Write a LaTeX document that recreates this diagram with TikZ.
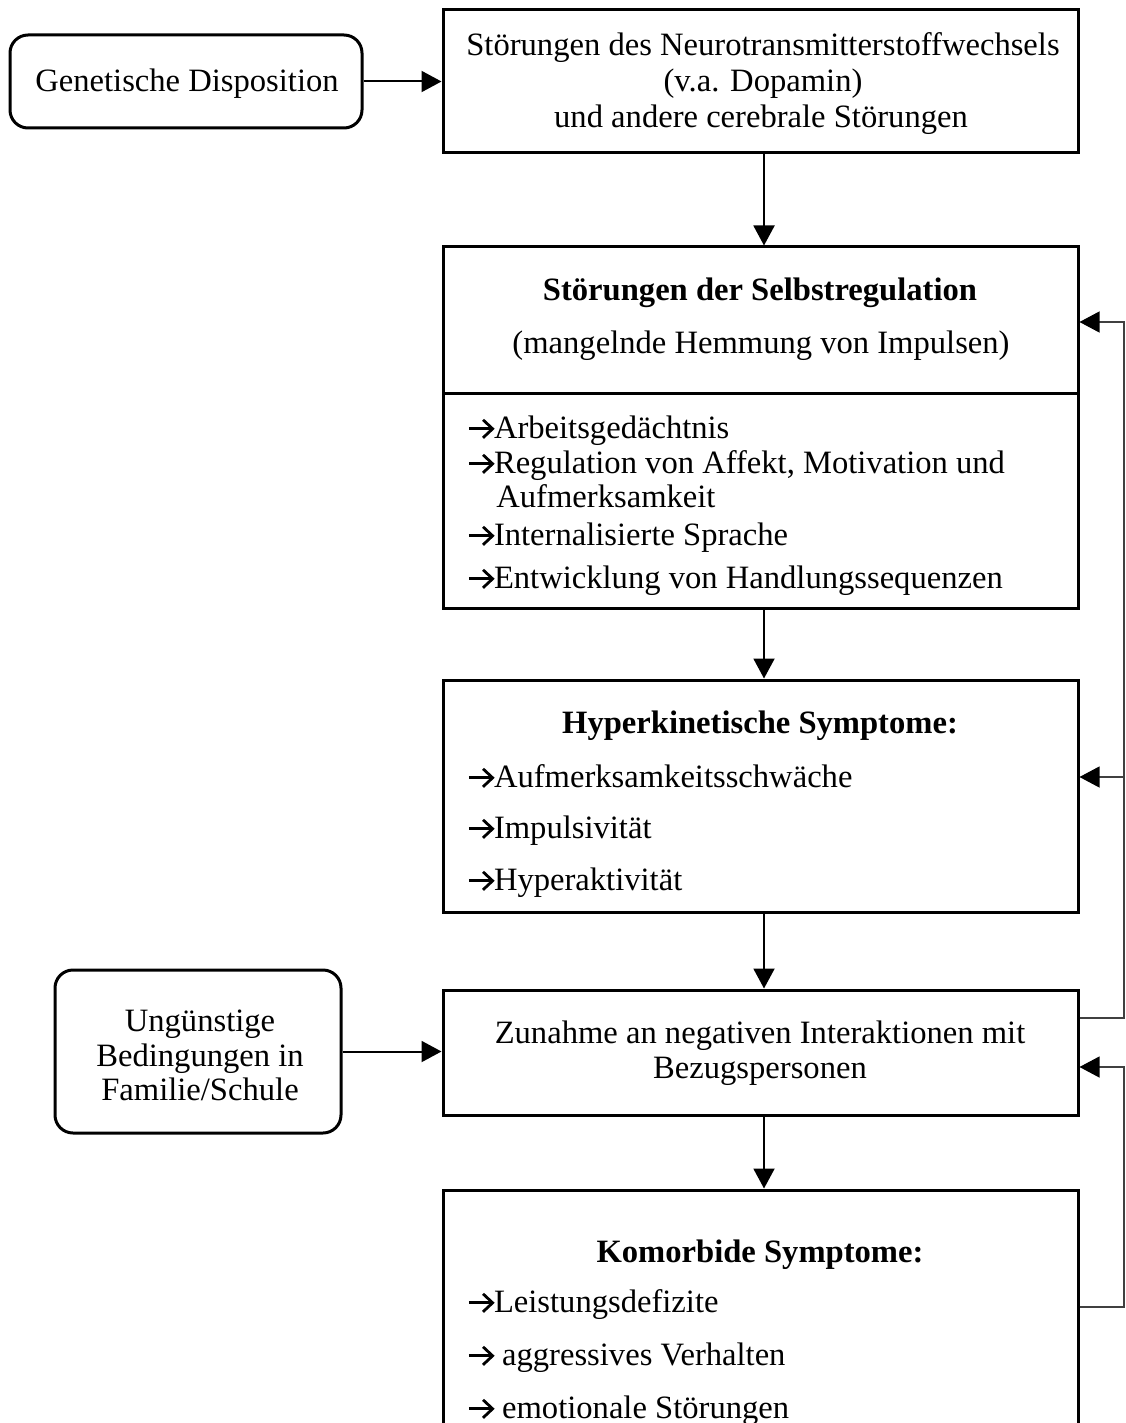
\documentclass[tikz,border=0pt]{standalone}
\usepackage{fontspec}
\setmainfont{Liberation Serif}
\usetikzlibrary{arrows.meta}
% bullet arrow drawn inline: thick shaft with an open chevron head
\newcommand\rarr{\tikz[baseline=0pt,x=1pt,y=1pt]{%
  \draw[line width=1.4pt,line cap=butt] (0.3,4.6) -- (12,4.6);%
  \draw[line width=1.4pt,line join=miter,miter limit=10] (7.4,0.1) -- (12.2,4.6) -- (7.4,9.1);}}
\begin{document}
\begin{tikzpicture}[x=0.5pt,y=-0.5pt,
  box/.style={draw,line width=1.5pt,rectangle,inner sep=0pt,minimum width=317.5pt},
  rbox/.style={draw,line width=1.5pt,rectangle,rounded corners=9pt,inner sep=0pt},
  txt/.style={inner sep=0pt,font=\fontsize{16.3}{18}\selectfont},
  btxt/.style={txt,font=\fontsize{16.3}{18}\selectfont\bfseries},
  arr/.style={line width=1pt,-{Triangle[length=10pt,width=10.5pt]}},
  fb/.style={line width=0.6pt,draw=black!75},
  fbarr/.style={fb,-{Triangle[length=10pt,width=10.5pt,color=black]}}]
\useasboundingbox (0,0) rectangle (1125,1423);
\fill[white] (0,0) rectangle (1125,1423);

% boxes
\node[rbox,minimum width=176pt,minimum height=46.5pt] (gen) at (186,81.5) {};
\node[box,minimum height=71.5pt] (b1) at (760.5,81.5) {};
\node[box,minimum height=73pt] (b2t) at (760.5,320) {};
\node[box,minimum height=107.5pt] (b2b) at (760.5,500.5) {};
\node[box,minimum height=116pt] (b3) at (760.5,796) {};
\node[box,minimum height=62.5pt] (b4) at (760.5,1052.5) {};
\node[box,minimum height=125pt] (b5) at (760.5,1315) {};
\node[rbox,minimum width=143pt,minimum height=81.5pt] (ung) at (198,1051.5) {};

% texts
\node[txt,anchor=base] (tgen) at (187,92) {Genetische Disposition};
\node[txt,anchor=base] (t11) at (763,56) {Störungen des Neurotransmitterstoffwechsels};
\node[txt,anchor=base] (t12) at (763,92) {(v.a. Dopamin)};
\node[txt,anchor=base] (t13) at (761,128) {und andere cerebrale Störungen};

\node[btxt,anchor=base] (t21) at (760,300) {Störungen der Selbstregulation};
\node[txt,anchor=base] (t22) at (761,353) {(mangelnde Hemmung von Impulsen)};

\node[txt,anchor=base west] (t23) at (467,438) {\rarr Arbeitsgedächtnis};
\node[txt,anchor=base west] (t24) at (467,473) {\rarr Regulation von Affekt, Motivation und};
\node[txt,anchor=base west] (t25) at (496,507) {Aufmerksamkeit};
\node[txt,anchor=base west] (t26) at (467,545) {\rarr Internalisierte Sprache};
\node[txt,anchor=base west] (t27) at (467,588) {\rarr Entwicklung von Handlungssequenzen};

\node[btxt,anchor=base] (t31) at (760,733) {Hyperkinetische Symptome:};
\node[txt,anchor=base west] (t32) at (467,787) {\rarr Aufmerksamkeitsschwäche};
\node[txt,anchor=base west] (t33) at (467,838) {\rarr Impulsivität};
\node[txt,anchor=base west] (t34) at (467,890) {\rarr Hyperaktivität};

\node[txt,anchor=base] (t41) at (760,1043) {Zunahme an negativen Interaktionen mit};
\node[txt,anchor=base] (t42) at (760,1078) {Bezugspersonen};

\node[txt,anchor=base] (tu1) at (200,1031) {Ungünstige};
\node[txt,anchor=base] (tu2) at (200,1066) {Bedingungen in};
\node[txt,anchor=base] (tu3) at (200,1100) {Familie/Schule};

\node[btxt,anchor=base] (t51) at (760,1262) {Komorbide Symptome:};
\node[txt,anchor=base west] (t52) at (467,1312) {\rarr Leistungsdefizite};
\node[txt,anchor=base west] (t53) at (467,1365) {\rarr{} aggressives Verhalten};
\node[txt,anchor=base west] (t54) at (467,1418) {\rarr{} emotionale Störungen};

% main chain
\coordinate (axis) at (764,0);
\draw[arr] (b1.south -| axis) -- (b2t.north -| axis);
\draw[arr] (b2b.south -| axis) -- (b3.north -| axis);
\draw[arr] (b3.south -| axis) -- (b4.north -| axis);
\draw[arr] (b4.south -| axis) -- (b5.north -| axis);
\draw[arr] (gen.east) -- (gen.east -| b1.west);
\draw[arr] (ung.east) -- (ung.east -| b4.west);

% feedback loops on the right
\coordinate (rail) at (1124,0);
\coordinate (s1) at ([yshift=17.25pt]b4.east);
\coordinate (t2) at ([yshift=-1pt]b2t.east);
\coordinate (t3) at ([yshift=9.5pt]b3.east);
\coordinate (s2) at ([yshift=4pt]b5.east);
\coordinate (t4) at ([yshift=-7.25pt]b4.east);
\draw[fbarr] (s1) -- (s1 -| rail) -- (rail |- t2) -- (t2);
\draw[fbarr] (rail |- t3) -- (t3);
\draw[fbarr] (s2) -- (s2 -| rail) -- (rail |- t4) -- (t4);
\end{tikzpicture}
\end{document}
